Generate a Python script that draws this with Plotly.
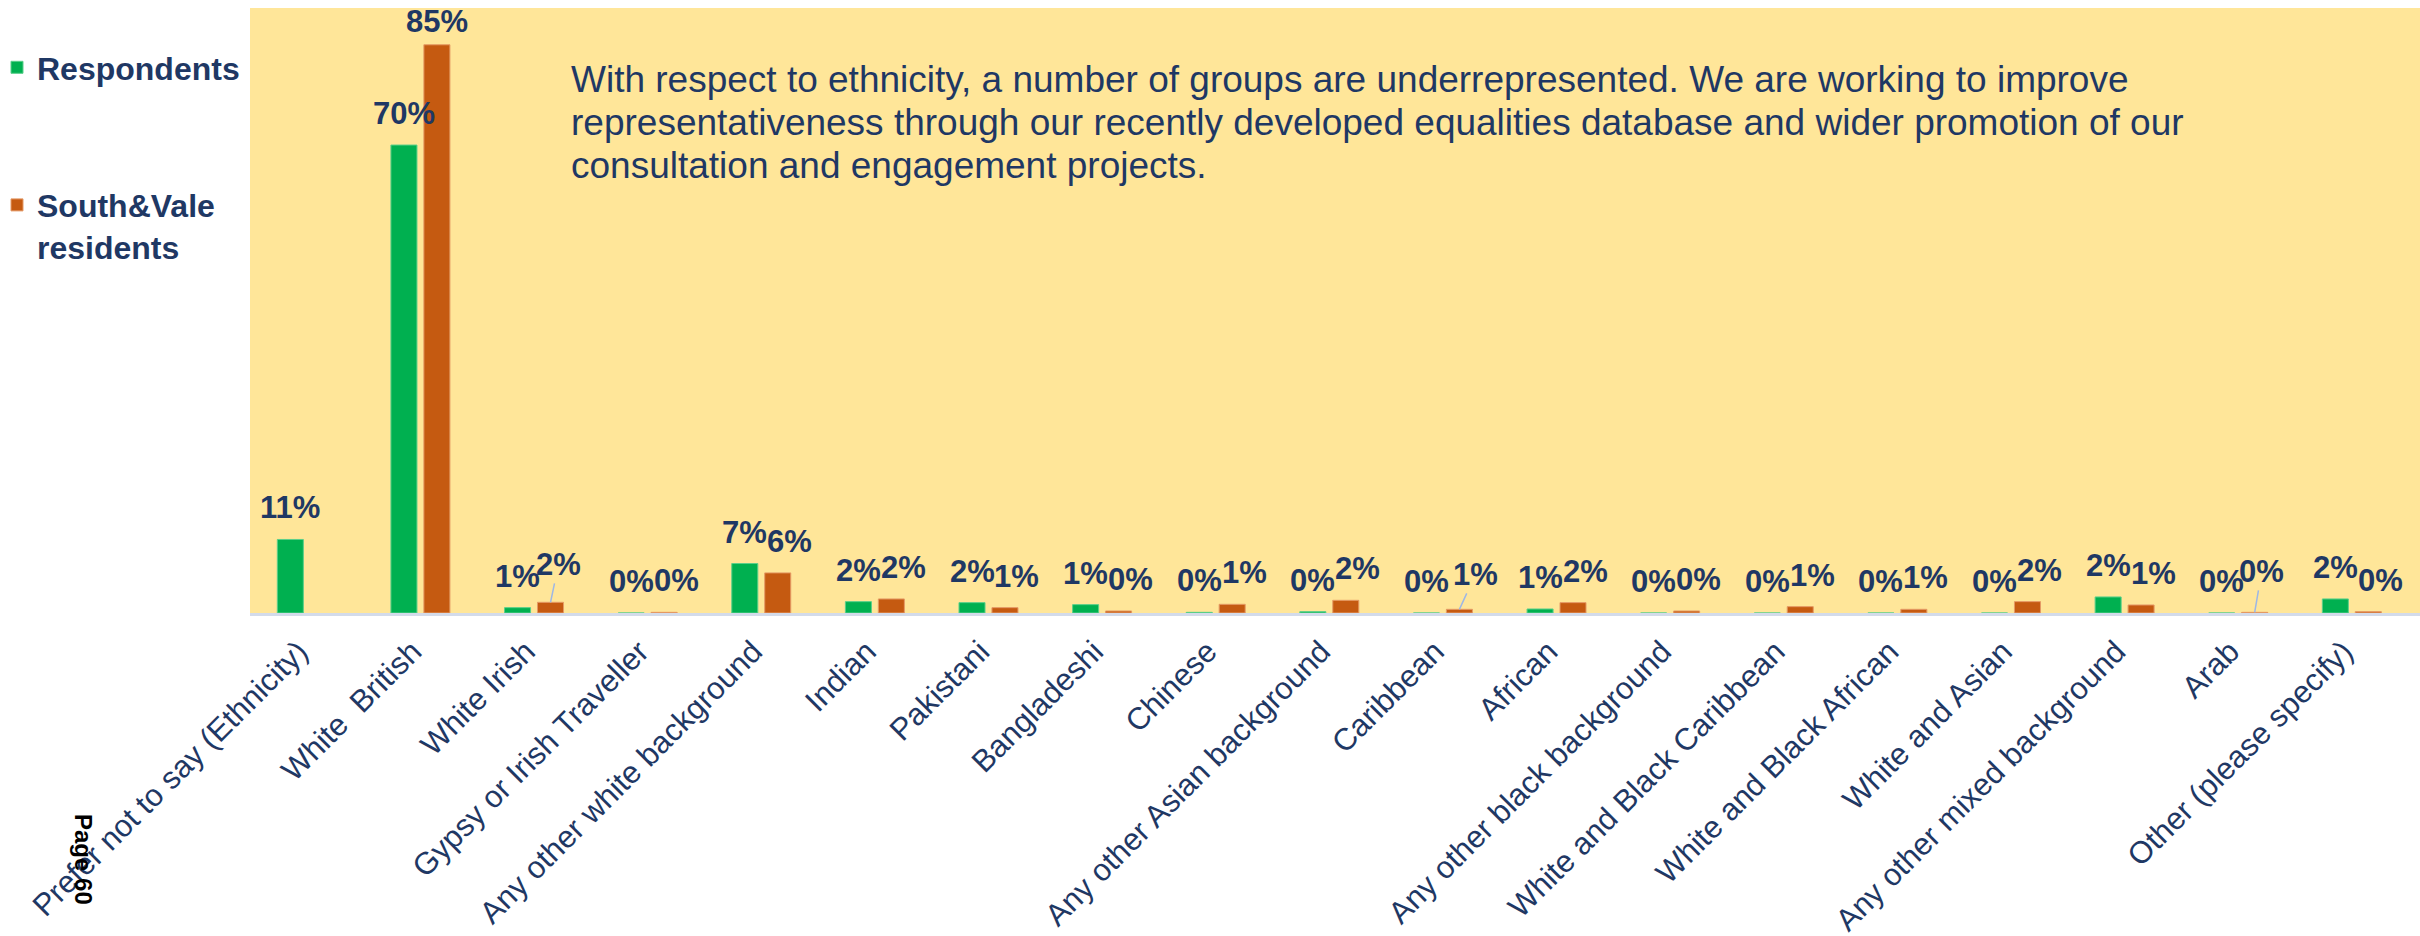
import plotly.graph_objects as go

# Ethnicity breakdown: survey respondents vs. South & Vale residents (shares)
categories = [
    "Prefer not to say (Ethnicity)", "White  British", "White Irish",
    "Gypsy or Irish Traveller", "Any other white background", "Indian",
    "Pakistani", "Bangladeshi", "Chinese", "Any other Asian background",
    "Caribbean", "African", "Any other black background",
    "White and Black Caribbean", "White and Black African", "White and Asian",
    "Any other mixed background", "Arab", "Other (please specify)",
]
respondents = [0.11, 0.70, 0.008, 0.0, 0.074, 0.017, 0.0155, 0.0125, 0.001, 0.002,
               0.0, 0.006, 0.0, 0.0, 0.0, 0.0, 0.024, 0.0, 0.021]
residents = [None, 0.85, 0.016, 0.001, 0.06, 0.021, 0.008, 0.003, 0.013, 0.019,
             0.0055, 0.0155, 0.003, 0.0095, 0.0055, 0.017, 0.012, 0.001, 0.002]
series_names = ["Respondents", "South&Vale<br>residents"]
note_lines = [
    "With respect to ethnicity, a number of groups are underrepresented. We are working to improve",
    "representativeness through our recently developed equalities database and wider promotion of our",
    "consultation and engagement projects.",
]

GREEN = "#00B050"
ORANGE = "#C55A11"
NAVY = "#1F3864"
PANEL = "#FFE699"
FONT = "Liberation Sans, Arial, sans-serif"

W, H = 2420, 936
M_L, M_R, M_T, M_B = 250, 0, 8, 323
PLOT_W = W - M_L - M_R
PLOT_H = H - M_T - M_B
Y_MAX = 0.905
X_RANGE = [-0.5, 18.6]

BARGAP = 0.42
GROUPGAP = 0.21
HALF = (1 - BARGAP) / 4  # distance from category centre to each bar centre

xs = list(range(len(categories)))

fig = go.Figure()
fig.add_bar(x=xs, y=respondents, name=series_names[0], legendgroup="resp",
            marker=dict(color=GREEN, line=dict(color="#5BCF8A", width=1)))
fig.add_bar(x=xs, y=residents, name=series_names[1], legendgroup="res",
            marker=dict(color=ORANGE, line=dict(color="#E59A66", width=1)))

# value labels above each bar (a few resident labels lifted with leader lines)
leader = {2: (8, -38), 10: (16, -35), 17: (7, -41)}
tight = {1: 4}  # the tallest label sits closer to its bar
label_font = dict(family=FONT, size=31, color=NAVY, weight="bold")
for values, side, dx in ((respondents, -1, 0), (residents, 1, 12)):
    for i, v in enumerate(values):
        if v is None:
            continue
        text = f"{v:.0%}"
        xpos = i + side * HALF
        if side == 1 and i in leader:
            ax, ay = leader[i]
            fig.add_annotation(x=xpos, y=v, text=text, showarrow=True,
                               arrowhead=0, arrowwidth=1.5, arrowcolor="#9DB7E6",
                               ax=ax, ay=ay, standoff=0, font=label_font)
        else:
            shift_x = 0 if (side == 1 and i in tight) else dx
            shift_y = tight.get(i, 12) if side == 1 else 12
            fig.add_annotation(x=xpos, y=v, text=text, showarrow=False,
                               xanchor="center", yanchor="bottom",
                               xshift=shift_x, yshift=shift_y, font=label_font)

# explanatory note inside the panel
note_left = (569 - M_L) / PLOT_W
for k, line in enumerate(note_lines):
    centre_px = 79 + 43.3 * k
    fig.add_annotation(xref="paper", yref="paper", x=note_left,
                       y=(PLOT_H + M_T - centre_px) / PLOT_H,
                       text=line, showarrow=False, xanchor="left", yanchor="middle",
                       font=dict(family=FONT, size=37, color=NAVY))

# page marker
fig.add_annotation(xref="paper", yref="paper",
                   x=(84 - M_L) / PLOT_W, y=(PLOT_H + M_T - 859) / PLOT_H,
                   text="Page 60", textangle=90, showarrow=False,
                   xanchor="center", yanchor="middle",
                   font=dict(family=FONT, size=24, color="black", weight="bold"))

fig.update_layout(
    width=W, height=H,
    margin=dict(l=M_L, r=M_R, t=M_T, b=M_B, pad=0, autoexpand=False),
    paper_bgcolor="white", plot_bgcolor=PANEL,
    barmode="group", bargap=BARGAP, bargroupgap=GROUPGAP,
    font=dict(family=FONT, color=NAVY),
    legend=dict(
        xref="container", yref="container", x=5 / W, y=1 - 40 / H,
        xanchor="left", yanchor="top",
        font=dict(family=FONT, size=32, color=NAVY, weight="bold"),
        traceorder="grouped", tracegroupgap=93, valign="top",
        bgcolor="rgba(0,0,0,0)", indentation=-8,
    ),
    xaxis=dict(
        range=X_RANGE, tickmode="array", tickvals=xs, ticktext=categories,
        tickangle=-45, tickfont=dict(family=FONT, size=31, color=NAVY),
        ticklabelshift=-8, ticklabelstandoff=5,
        showgrid=False, zeroline=False, ticks="", automargin=False,
        showline=True, linecolor="#D3DBEA", linewidth=3,
    ),
    yaxis=dict(range=[0, Y_MAX], visible=False, showgrid=False, zeroline=False,
               automargin=False),
)

fig.write_html("out.html")
